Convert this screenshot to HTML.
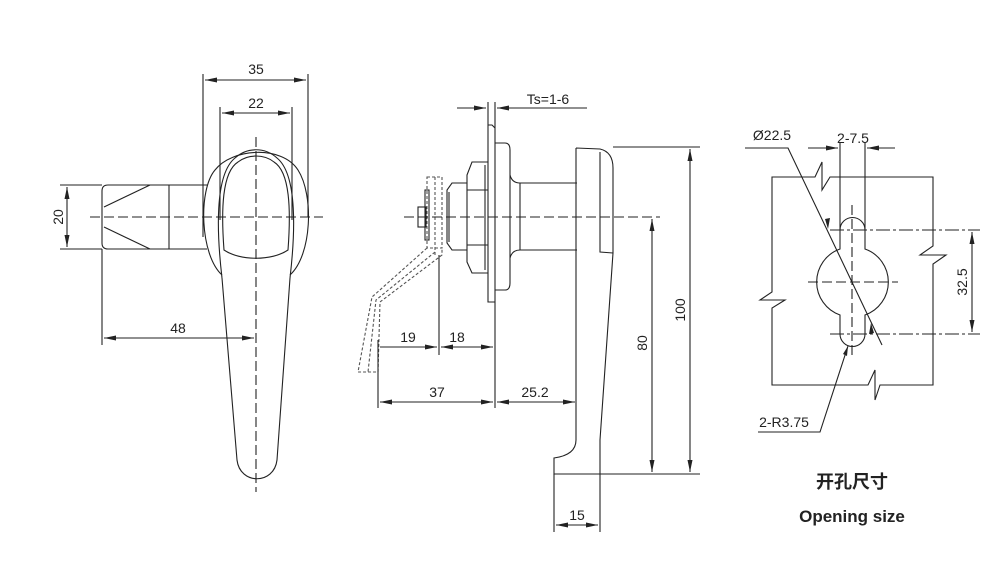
<!DOCTYPE html>
<html><head><meta charset="utf-8"><style>
html,body{margin:0;padding:0;background:#fff;}
svg{display:block;}
text{font-family:"Liberation Sans","Noto Sans CJK SC",sans-serif;fill:#222;}
</style></head><body>
<svg width="995" height="567" viewBox="0 0 995 567" xmlns="http://www.w3.org/2000/svg">
<defs>
<marker id="a" viewBox="0 0 12 5" refX="12" refY="2.5" markerWidth="12" markerHeight="5" orient="auto-start-reverse" markerUnits="userSpaceOnUse"><path d="M0,0 L12,2.5 L0,5z" fill="#222"/></marker>
</defs>
<g stroke="#222" stroke-width="1.1" fill="none">
<!-- LEFT VIEW -->
<line x1="203" y1="74" x2="203" y2="237"/>
<line x1="308" y1="74" x2="308" y2="217"/>
<line x1="220" y1="107" x2="220" y2="220"/>
<line x1="292" y1="107" x2="292" y2="220"/>
<line x1="205" y1="80" x2="306" y2="80" marker-start="url(#a)" marker-end="url(#a)"/>
<line x1="222" y1="113" x2="290" y2="113" marker-start="url(#a)" marker-end="url(#a)"/>
<path d="M108,185 L207,185 M108,249 L207,249 M102,191 Q102,185 108,185 M102,243 Q102,249 108,249 M102,191 L102,243"/>
<line x1="169" y1="185" x2="169" y2="249"/>
<line x1="104" y1="207" x2="150" y2="185"/>
<line x1="104" y1="227" x2="150" y2="249"/>
<line x1="60" y1="185" x2="102" y2="185"/>
<line x1="60" y1="249" x2="102" y2="249"/>
<line x1="67" y1="187" x2="67" y2="247" marker-start="url(#a)" marker-end="url(#a)"/>
<path d="M222,275 C200,255 198,190 215,170 C232,148 282,145 298,170 C314,195 312,255 290,275"/>
<path d="M222,278 C217,235 214,175 235,158 C247,147 265,147 277,158 C298,175 295,235 290,278"/>
<path d="M224,250 C221,210 222,172 238,162 C248,154 264,154 274,162 C290,172 291,210 288,250 C272,261 240,261 224,250z"/>
<path d="M222,278 L237,460 C240,485 274,485 277,460 L290,278"/>
<line x1="256" y1="137" x2="256" y2="492" stroke-dasharray="10,4"/>
<line x1="90" y1="217" x2="323" y2="217" stroke-dasharray="10,4"/>
<line x1="102" y1="249" x2="102" y2="345"/>
<line x1="104" y1="338" x2="254" y2="338" marker-start="url(#a)" marker-end="url(#a)"/>

<!-- MIDDLE VIEW -->
<line x1="457" y1="108" x2="486" y2="108" marker-end="url(#a)"/>
<line x1="497" y1="108" x2="587" y2="108" marker-start="url(#a)"/>
<line x1="488" y1="102" x2="488" y2="125"/>
<line x1="495" y1="102" x2="495" y2="408"/>
<path d="M488,125 L492,125 L495,128 M488,125 L488,302 L495,302"/>
<path d="M495,143 L505,143 Q510,143 510,150 L510,283 Q510,290 505,290 L495,290"/>
<path d="M510,175 Q512,183 520,183 L577,183 M510,258 Q512,250 520,250 L577,250"/>
<line x1="520" y1="183" x2="520" y2="250"/>
<path d="M488,162 L472,162 L467,175 L467,262 L472,273 L488,273"/>
<line x1="467" y1="190" x2="488" y2="190"/><line x1="467" y1="245" x2="488" y2="245"/>
<line x1="485" y1="165" x2="485" y2="270"/>
<path d="M467,183 L452,183 L447,190 L447,243 L452,250 L467,250"/>
<line x1="449" y1="192" x2="449" y2="242"/>
<g stroke-dasharray="3,2" stroke="#555">
<rect x="427" y="177" width="15" height="71"/>
<line x1="435" y1="177" x2="435" y2="255"/>
<path d="M427,248 L372,297 L358,372 L378,372 L380,302 L442,255 L442,248"/>
<path d="M435,252 L376,300 L368,372"/>
</g>
<rect x="425" y="190" width="4" height="50"/>
<rect x="418" y="207" width="8" height="20"/>
<line x1="404" y1="217" x2="660" y2="217" stroke-dasharray="10,4"/>
<path d="M576,148 L600,149 Q613,152 613,168 L613,253 L600,440 L600,474 M576,148 L576,440 Q576,455 554,458 L554,474 L600,474"/>
<path d="M600,152 L600,252 L613,253"/>
<line x1="613" y1="147" x2="700" y2="147"/>
<line x1="600" y1="474" x2="700" y2="474"/>
<line x1="690" y1="149" x2="690" y2="472" marker-start="url(#a)" marker-end="url(#a)"/>
<line x1="652" y1="219" x2="652" y2="472" marker-start="url(#a)" marker-end="url(#a)"/>
<line x1="439" y1="255" x2="439" y2="355"/>
<line x1="378" y1="340" x2="378" y2="408"/>
<line x1="380" y1="347" x2="437" y2="347" marker-end="url(#a)"/>
<line x1="441" y1="347" x2="493" y2="347" marker-start="url(#a)" marker-end="url(#a)"/>
<line x1="380" y1="402" x2="493" y2="402" marker-start="url(#a)" marker-end="url(#a)"/>
<line x1="497" y1="402" x2="575" y2="402" marker-start="url(#a)" marker-end="url(#a)"/>
<line x1="554" y1="474" x2="554" y2="532"/>
<line x1="600" y1="474" x2="600" y2="532"/>
<line x1="556" y1="525" x2="598" y2="525" marker-start="url(#a)" marker-end="url(#a)"/>

<!-- RIGHT VIEW -->
<path d="M772,177 L815,177 L822,162 L822,190 L830,177 L933,177 L933,246 L920,255 L946,255 L933,264 L933,385 L880,385 L875,400 L875,370 L868,385 L772,385 L772,308 L785,300 L760,300 L772,292 Z"/>
<path d="M840,230 A12,12 0 0 1 865,230 L865,249 A35,35 0 0 1 865,315 L865,334 A12,12 0 0 1 840,334 L840,315 A35,35 0 0 1 840,249 Z"/>
<line x1="852" y1="205" x2="852" y2="357" stroke-dasharray="10,4"/>
<line x1="808" y1="282" x2="898" y2="282" stroke-dasharray="10,4"/>
<line x1="840" y1="142" x2="840" y2="230"/>
<line x1="865" y1="142" x2="865" y2="230"/>
<line x1="808" y1="148" x2="838" y2="148" marker-end="url(#a)"/>
<line x1="867" y1="148" x2="895" y2="148" marker-start="url(#a)"/>
<path d="M745,148 L788,148 L882,345"/>
<path d="M830,230 L980,230 M830,334 L980,334" stroke-dasharray="14,3,3,3"/>
<line x1="972" y1="232" x2="972" y2="332" marker-start="url(#a)" marker-end="url(#a)"/>
<path d="M758,432 L820,432 L848,346" />
</g>
<g fill="#222">
<path d="M828,229 l-3,-10 l5,-1z"/>
<path d="M871,323 l3,10 l-5,1z"/>
<path d="M848,346 l-1,10 l-4,-2z"/>
</g>
<g font-size="14" text-anchor="middle">
<text x="256" y="74">35</text>
<text x="256" y="108">22</text>
<text x="178" y="333">48</text>
<text transform="translate(63,217) rotate(-90)">20</text>
<text x="548" y="104">Ts=1-6</text>
<text x="408" y="342">19</text>
<text x="457" y="342">18</text>
<text x="437" y="397">37</text>
<text x="535" y="397">25.2</text>
<text x="577" y="520">15</text>
<text transform="translate(685,310) rotate(-90)">100</text>
<text transform="translate(647,343) rotate(-90)">80</text>
<text x="772" y="140">Ø22.5</text>
<text x="853" y="143">2-7.5</text>
<text transform="translate(967,282) rotate(-90)">32.5</text>
<text x="784" y="427">2-R3.75</text>
<text x="852" y="488" font-size="18" font-weight="bold">开孔尺寸</text>
<text x="852" y="522" font-size="17" font-weight="bold">Opening size</text>
</g>
</svg>
</body></html>
